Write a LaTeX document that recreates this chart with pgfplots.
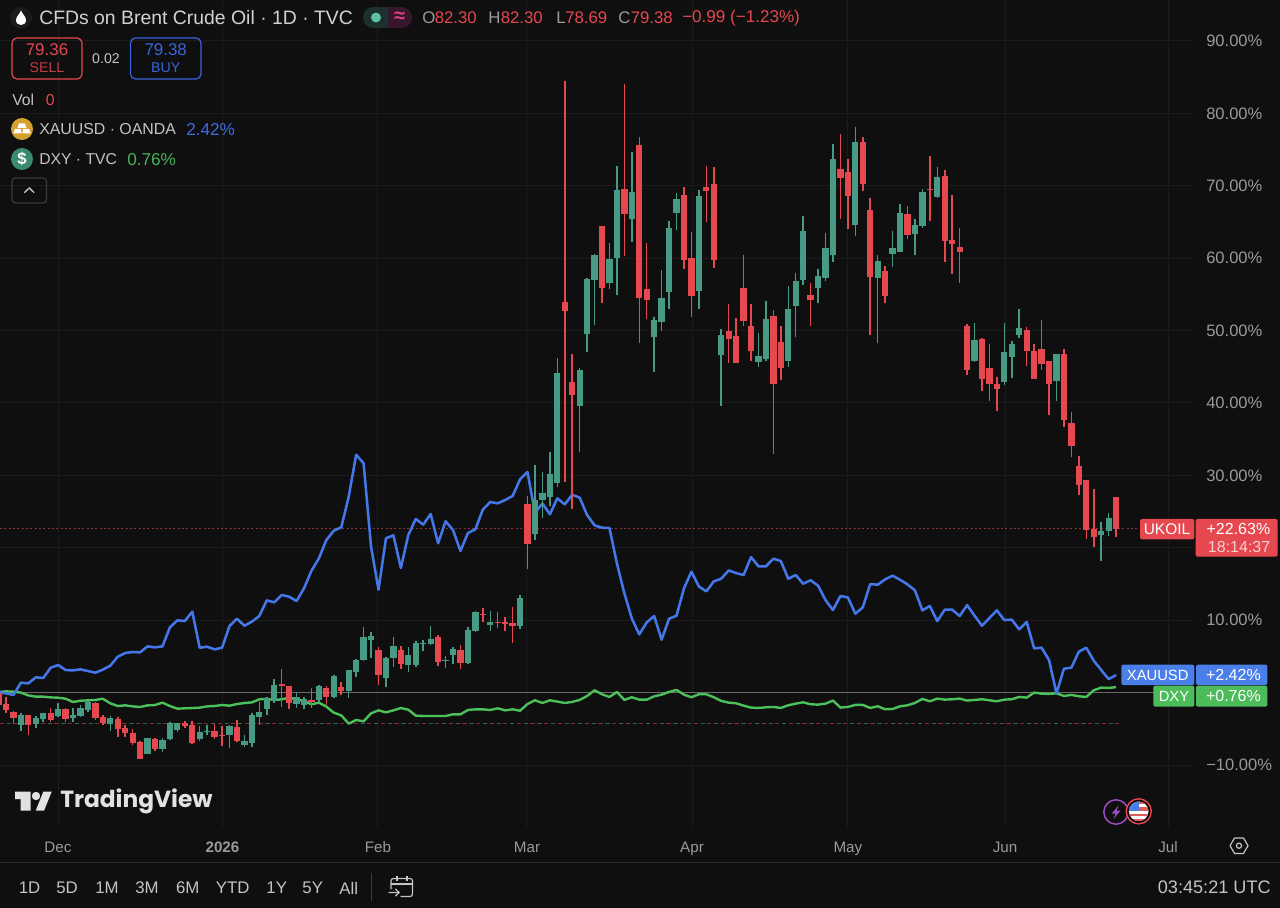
\documentclass[border=0pt]{standalone}
\usepackage{fontspec}
\setmainfont{Liberation Sans}
\newfontfamily\logofont{Poppins}
\usepackage{pgfplots}
\usepackage{pgfplotstable}
\pgfplotsset{compat=1.18}
\definecolor{bg}{HTML}{0F0F0F}
\definecolor{gridc}{HTML}{1B1B1B}
\definecolor{cred}{HTML}{E5484F}
\definecolor{cgreen}{HTML}{479B85}
\definecolor{xau}{HTML}{4478EA}
\definecolor{dxy}{HTML}{4CC15A}
\definecolor{axt}{HTML}{9A9A9A}
\definecolor{ttl}{HTML}{D2D2D2}
\definecolor{lbl}{HTML}{C4C4C4}
\definecolor{bblue}{HTML}{4A7EE8}
\definecolor{bgreen}{HTML}{4CBB5A}
\definecolor{h1C302C}{HTML}{1C302C}
\definecolor{h35162A}{HTML}{35162A}
\definecolor{h5CC0A8}{HTML}{5CC0A8}
\definecolor{hE2457F}{HTML}{E2457F}
\definecolor{h3A63DC}{HTML}{3A63DC}
\definecolor{hD4A030}{HTML}{D4A030}
\definecolor{h3F6CE0}{HTML}{3F6CE0}
\definecolor{h3A8A72}{HTML}{3A8A72}
\definecolor{h44B558}{HTML}{44B558}
\definecolor{h3A3A3A}{HTML}{3A3A3A}
\definecolor{hE2E2E2}{HTML}{E2E2E2}
\definecolor{h9A50C4}{HTML}{9A50C4}
\definecolor{hE5484D}{HTML}{E5484D}
\definecolor{hE05A5A}{HTML}{E05A5A}
\definecolor{hF7CFD1}{HTML}{F7CFD1}
\definecolor{h2A2A2A}{HTML}{2A2A2A}
\definecolor{h1C1C1F}{HTML}{1C1C1F}
\definecolor{zero}{HTML}{6A6A6A}
\pgfplotstableread{
x open high low close
0 0.00 0.30 -2.00 -1.71
1 -1.58 -0.56 -2.77 -2.40
2 -2.68 -2.50 -4.34 -3.46
4 -3.14 -3.14 -5.86 -4.48
7 -2.87 -2.08 -4.11 -3.79
9 -2.22 -2.13 -4.02 -3.69
13 -1.48 -1.30 -3.79 -3.51
14 -3.37 -3.10 -4.48 -4.25
16 -3.60 -3.33 -6.09 -4.98
17 -4.89 -4.48 -6.18 -5.53
18 -5.63 -5.07 -7.19 -6.92
19 -6.78 -6.64 -9.22 -9.22
21 -6.41 -6.32 -8.02 -7.84
25 -4.20 -3.92 -4.94 -4.61
26 -4.48 -3.88 -7.10 -6.92
29 -5.30 -4.34 -6.36 -6.09
30 -5.86 -4.61 -7.38 -5.95
32 -4.71 -3.79 -6.78 -6.64
38 1.14 3.21 -1.94 0.96
39 0.96 0.96 -2.22 -1.39
42 -0.98 0.59 -2.17 -1.25
44 0.59 0.91 -1.71 -0.61
46 0.77 1.42 -0.38 0.22
51 5.93 6.30 1.10 2.39
54 5.84 6.44 3.31 3.95
59 7.68 7.91 3.68 4.27
62 5.84 6.58 3.21 4.04
65 10.86 11.64 9.71 10.67
67 9.80 11.09 8.88 9.57
68 9.75 10.49 8.56 9.43
69 9.61 11.78 6.81 9.25
71 26.00 27.16 17.03 20.57
76 54.00 84.53 29.13 52.76
77 42.90 46.73 25.36 41.10
81 64.45 64.50 53.77 55.94
84 69.52 84.07 60.31 66.06
86 75.69 76.70 48.34 54.51
87 55.80 62.15 51.65 54.23
92 68.73 69.84 58.56 59.80
93 59.99 63.58 51.93 54.74
95 69.84 72.79 65.01 69.33
96 70.25 72.56 58.70 59.71
98 49.99 53.68 45.57 48.84
99 49.21 51.70 45.48 45.48
100 55.89 60.44 50.68 51.33
101 50.59 53.63 45.80 47.23
104 52.02 52.80 32.96 42.67
105 48.43 50.59 43.22 44.84
109 54.96 56.53 50.68 54.23
113 72.32 77.16 65.37 71.12
114 71.91 73.66 64.03 68.64
116 76.10 76.70 69.33 70.30
117 66.66 68.27 49.39 57.45
119 58.28 58.92 53.77 54.73
122 66.06 67.21 62.70 63.21
125 69.61 74.07 65.09 69.51
127 71.40 72.18 59.43 62.38
128 62.52 68.78 57.82 61.92
129 61.55 64.22 56.53 60.90
130 50.59 50.92 43.92 44.56
132 48.80 48.94 41.71 43.36
133 44.79 48.15 40.23 42.67
134 42.58 43.55 38.90 41.89
138 50.09 50.45 45.11 47.23
139 47.14 48.11 43.27 43.27
140 47.51 51.47 44.61 45.34
141 45.76 45.80 38.39 42.58
143 46.73 47.46 36.64 37.66
144 37.19 38.81 32.59 34.02
145 31.30 32.68 27.30 28.72
146 29.41 29.41 21.27 22.46
147 22.65 28.13 20.11 21.54
150 27.07 27.07 21.54 22.63
}\downcandles
\pgfplotstableread{
x open high low close
3 -4.48 -2.77 -5.26 -3.14
5 -4.38 -3.23 -4.94 -3.56
6 -3.65 -2.77 -4.02 -2.82
8 -3.23 -1.39 -3.33 -2.22
10 -3.56 -2.08 -4.11 -3.05
11 -3.23 -1.71 -3.37 -2.08
12 -2.40 -1.16 -2.63 -1.25
15 -4.29 -3.23 -5.26 -3.51
20 -8.53 -6.23 -8.53 -6.32
22 -7.84 -6.32 -8.25 -6.50
23 -6.46 -4.02 -6.55 -4.20
24 -5.17 -4.15 -5.40 -4.25
27 -6.46 -4.61 -6.64 -5.40
28 -5.35 -4.43 -5.90 -5.26
31 -5.86 -4.48 -7.70 -4.61
33 -7.28 -5.86 -7.56 -6.73
34 -7.01 -2.77 -7.47 -3.10
35 -3.37 -1.25 -4.48 -2.68
36 -2.31 -0.65 -3.10 -0.75
37 -1.11 1.83 -1.48 1.00
40 -1.62 -0.10 -2.17 -0.65
41 -1.71 -0.56 -2.22 -0.93
43 -1.02 1.05 -1.25 0.91
45 -0.61 2.43 -0.70 2.34
47 0.27 3.12 -0.79 3.08
48 2.80 4.60 2.20 4.50
49 4.50 9.02 4.37 7.63
50 7.27 8.42 4.73 7.82
52 1.97 4.96 0.73 4.73
53 4.83 7.73 3.49 6.44
55 3.77 6.25 2.85 5.15
56 3.81 7.17 3.58 6.81
57 6.67 7.27 5.75 6.85
58 6.71 9.20 6.62 7.45
60 4.41 5.06 3.35 4.55
61 5.19 6.25 3.95 5.98
63 4.04 9.11 3.95 8.60
64 8.51 11.27 8.42 11.09
66 9.34 11.23 8.56 9.80
70 9.25 13.53 8.83 13.07
72 21.91 31.44 21.08 26.56
73 26.60 30.42 24.07 27.52
74 27.01 33.28 25.82 30.19
75 28.95 46.17 28.44 44.19
78 39.58 44.89 33.28 44.55
79 49.49 57.23 47.00 57.18
80 56.95 60.54 50.78 60.45
82 56.63 62.15 55.80 59.85
83 60.08 72.79 54.97 69.38
85 65.47 74.67 62.29 69.20
88 49.17 51.93 44.33 51.42
89 51.24 58.33 50.00 54.51
90 55.34 65.14 52.94 64.13
91 66.29 69.01 63.90 68.14
94 55.43 69.38 53.04 68.64
97 46.68 50.18 39.63 49.39
102 45.67 49.62 45.02 46.54
103 46.08 54.09 45.80 51.60
106 45.85 56.21 44.97 52.94
107 53.40 57.91 49.07 56.81
108 57.04 65.78 56.35 63.71
110 55.84 58.51 53.77 57.50
111 57.22 63.44 56.90 61.36
112 60.40 75.77 59.52 73.70
115 64.59 78.08 63.07 76.10
118 57.31 60.44 48.33 59.66
120 60.54 63.71 58.74 61.46
121 60.90 67.49 60.86 66.25
123 63.30 65.42 60.44 64.54
124 64.50 69.51 64.13 69.10
126 68.46 72.64 68.32 71.22
131 45.76 51.01 45.71 48.71
135 42.95 51.01 42.44 47.05
136 46.36 48.61 43.41 48.15
137 49.44 52.94 49.03 50.41
142 43.04 46.77 40.23 46.73
148 21.73 23.61 18.23 22.32
149 22.28 24.76 21.63 24.07
}\upcandles
\pgfplotstableread{
i xau dxy
0 0.04 0.08
1 -0.10 0.17
2 -0.33 0.13
3 1.37 0.00
4 1.28 -0.38
5 2.11 -0.56
6 2.02 -0.56
7 3.44 -0.66
8 3.81 -0.70
9 3.12 -0.84
10 3.07 -1.30
11 3.21 -1.12
12 2.98 -1.07
13 2.75 -1.02
14 3.17 -0.84
15 3.72 -1.48
16 4.96 -1.85
17 5.47 -1.76
18 5.61 -1.90
19 5.56 -1.99
20 6.39 -1.76
21 6.25 -1.71
22 6.39 -1.39
23 9.01 -1.85
24 9.98 -2.22
25 9.89 -2.17
26 11.18 -2.13
27 6.20 -2.08
28 6.34 -1.90
29 5.97 -1.85
30 6.20 -1.71
31 9.20 -1.81
32 10.21 -1.58
33 9.24 -1.44
34 9.80 -1.35
35 10.58 -0.93
36 12.74 -0.85
37 12.47 -1.02
38 13.48 -0.93
39 13.25 -0.70
40 12.65 -0.93
41 14.40 -1.16
42 16.84 -1.62
43 18.55 -1.39
44 21.08 -1.94
45 22.37 -2.77
46 22.83 -3.14
47 27.06 -4.29
48 32.86 -3.78
49 31.67 -3.97
50 20.16 -2.86
51 14.22 -2.45
52 21.31 -2.73
53 21.72 -2.45
54 17.21 -2.13
55 21.77 -2.36
56 23.98 -3.18
57 23.20 -3.23
58 24.67 -3.23
59 20.62 -3.23
60 23.66 -3.23
61 22.46 -3.00
62 19.56 -3.00
63 22.04 -2.40
64 22.55 -2.31
65 25.27 -2.31
66 26.33 -2.40
67 26.14 -2.17
68 26.60 -2.45
69 27.16 -2.31
70 29.46 -2.50
71 30.47 -1.57
72 24.80 -1.06
73 26.14 -1.43
74 24.62 -1.06
75 26.83 -1.24
76 26.00 -1.43
77 27.33 -1.29
78 26.92 -1.01
79 24.53 -0.46
80 23.10 0.32
81 22.78 -0.23
82 22.73 -0.60
83 17.85 0.09
84 13.71 -1.01
85 10.25 -0.64
86 8.04 -0.97
87 9.70 -0.97
88 10.58 -0.51
89 7.31 -0.28
90 10.21 0.09
91 10.62 0.37
92 14.40 -0.28
93 16.70 -0.64
94 14.67 -0.23
95 13.98 -0.23
96 15.36 -0.64
97 15.73 -1.15
98 16.88 -1.38
99 16.51 -1.47
100 16.24 -1.80
101 18.72 -2.07
102 17.44 -2.12
103 17.44 -2.03
104 18.49 -1.98
105 18.17 -2.12
106 15.73 -1.75
107 16.24 -1.52
108 15.04 -1.34
109 15.52 -1.61
110 14.76 -1.66
111 12.78 -1.52
112 11.40 -1.10
113 13.34 -2.07
114 13.15 -1.98
115 10.90 -1.70
116 11.77 -1.70
117 14.99 -2.12
118 14.90 -1.89
119 15.64 -2.30
120 16.15 -2.26
121 15.59 -1.89
122 14.95 -1.75
123 14.12 -1.43
124 11.36 -0.87
125 11.96 -1.20
126 9.88 -0.83
127 11.45 -0.97
128 11.45 -0.92
129 10.58 -0.83
130 12.09 -1.10
131 10.62 -1.01
132 9.24 -0.92
133 10.30 -1.06
134 11.36 -1.20
135 10.02 -0.97
136 10.07 -0.92
137 8.73 -0.60
138 9.75 -0.69
139 6.11 0.00
140 6.20 -0.14
141 4.50 -0.18
142 -0.11 -0.09
143 3.30 -0.46
144 3.44 -0.32
145 5.65 -0.51
146 6.20 -0.60
147 4.41 0.32
148 3.12 0.69
149 1.87 0.64
150 2.42 0.76
}\lines
\newcommand\candles[2]{%
  \addplot[forget plot, draw=none, no markers, error bars/.cd, y dir=both, y explicit, error mark=none,
    error bar style={draw=#2, line width=1.15pt}]
    table[x=x, y expr=\thisrow{high}, y error plus expr=0, y error minus expr=\thisrow{high}-\thisrow{low}] {#1};
  \addplot[forget plot, draw=none, no markers, error bars/.cd, y dir=both, y explicit, error mark=none,
    error bar style={draw=#2, line width=4.7pt}]
    table[x=x, y expr={max(\thisrow{open},\thisrow{close})}, y error plus expr=0, y error minus expr={abs(\thisrow{open}-\thisrow{close})}] {#1};
}
% text helper: x y anchor colour size text
\newcommand\T[6]{\node[anchor=#3, inner sep=0pt, text=#4, font=\fontsize{#5}{#5}\selectfont] at (#1,#2) {#6};}
\begin{document}
\begin{tikzpicture}
\useasboundingbox (0,-59.25pt) rectangle (960pt,621pt);
\fill[bg] (-3pt,-62pt) rectangle (963pt,624pt);
\begin{axis}[
  scale only axis, width=895.5pt, height=621pt,
  xmin=0.1946, xmax=160.46, ymin=-18.70, ymax=95.66,
  axis line style={draw=none},
  major tick length=0pt,
  tick style={draw=none},
  grid=major,
  major grid style={gridc, line width=0.75pt},
  ytick={-10,0,10,20,30,40,50,60,70,80,90},
  yticklabels={{−10.00\%},{},{10.00\%},{},{30.00\%},{40.00\%},{50.00\%},{60.00\%},{70.00\%},{80.00\%},{90.00\%}},
  yticklabel pos=right,
  yticklabel style={anchor=west, inner sep=0pt, text=axt, font=\fontsize{12.4}{13}\selectfont},
  yticklabel shift=9pt,
  xtick={7.98,30.06,50.93,70.93,93.08,114.0,135.1,156.98},
  xticklabels={Dec,\textbf{2026},Feb,Mar,Apr,May,Jun,Jul},
  xticklabel style={anchor=center, inner sep=0pt, text height=8pt, text depth=0pt, text=axt, font=\fontsize{11.4}{12}\selectfont},
  xticklabel shift=14.2pt,
  clip=true,
]
% reference levels
\addplot[forget plot, color=zero, line width=1.1pt] coordinates {(0.1946,0) (160.46,0)};
\addplot[forget plot, color=cred!60!bg, line width=1pt, dash pattern=on 1.4pt off 1.85pt] coordinates {(0.1946,22.63) (153.2,22.63)};
\addplot[forget plot, color=cred!55!bg, line width=0.8pt, dash pattern=on 3.2pt off 7pt] coordinates {(0.1946,-4.27) (150.5,-4.27)};
\addplot[forget plot, color=cgreen!60!bg, line width=0.8pt, dash pattern=on 3.2pt off 7pt, dash phase=5pt] coordinates {(0.1946,-4.27) (150.5,-4.27)};
% comparison series
\addplot[forget plot, color=dxy, line width=1.8pt, line join=round] table[x=i, y=dxy] {\lines};
\addplot[forget plot, color=xau, line width=1.9pt, line join=round] table[x=i, y=xau] {\lines};
% candles
\candles{\downcandles}{cred}
\candles{\upcandles}{cgreen}
\end{axis}
\begin{scope}[x=0.75pt, y=-0.75pt, yshift=621pt]
% ---- header
\fill[h1C1C1F] (21,18) circle[radius=11];
\fill[white] (21,10.5) .. controls (22,13.5) and (26,16.5) .. (26,20) .. controls (26,23.2) and (23.8,25) .. (21,25) .. controls (18.2,25) and (16,23.2) .. (16,20) .. controls (16,16.5) and (20,13.5) .. (21,10.5) -- cycle;
\T{39}{18}{west}{ttl}{14.55}{CFDs on Brent Crude Oil · 1D · TVC}
\begin{scope}
\clip[rounded corners=7.8pt] (363,7) rectangle (412,28);
\fill[h1C302C] (363,7) rectangle (387.5,28);
\fill[h35162A] (387.5,7) rectangle (412,28);
\end{scope}
\fill[h5CC0A8] (376,17.5) circle[radius=5];
\T{399.5}{17}{center}{hE2457F}{15}{\textbf{≈}}
\T{422}{18}{west}{axt}{12.6}{O}
\T{434.5}{18}{west}{cred}{12.6}{82.30}
\T{488}{18}{west}{axt}{12.6}{H}
\T{500.5}{18}{west}{cred}{12.6}{82.30}
\T{556}{18}{west}{axt}{12.6}{L}
\T{565}{18}{west}{cred}{12.6}{78.69}
\T{618}{18}{west}{axt}{12.6}{C}
\T{630.5}{18}{west}{cred}{12.6}{79.38}
\T{682}{18}{west}{cred}{12.8}{−0.99 (−1.23\%)}
% sell / buy
\draw[cred, line width=0.9pt, rounded corners=3.7pt] (12,38) rectangle (82,79);
\draw[h3A63DC, line width=0.9pt, rounded corners=3.7pt] (130.5,38) rectangle (201,79);
\T{47}{50}{center}{cred}{12.7}{79.36}
\T{47}{67.5}{center}{cred!85!black}{10.6}{SELL}
\T{165.7}{50}{center}{h3A63DC}{12.7}{79.38}
\T{165.7}{67.5}{center}{h3A63DC}{10.6}{BUY}
\T{106}{58.5}{center}{lbl}{10.6}{0.02}
\T{12}{100}{west}{lbl}{11.8}{Vol}
\T{45.5}{100}{west}{cred}{11.8}{0}
% gold
\fill[hD4A030] (22,129) circle[radius=11];
\fill[white] (19,123.5) -- (25,123.5) -- (26.5,128) -- (17.5,128) -- cycle;
\fill[white] (15,129) -- (21,129) -- (21.6,133.5) -- (13.5,133.5) -- cycle;
\fill[white] (23,129) -- (29,129) -- (30.5,133.5) -- (22.4,133.5) -- cycle;
\T{39}{129.5}{west}{lbl}{11.9}{XAUUSD · OANDA}
\T{186}{129.5}{west}{h3F6CE0}{12.9}{2.42\%}
% dollar
\fill[h3A8A72] (22,159) circle[radius=11];
\T{22}{159}{center}{white}{12.5}{\textbf{\$}}
\T{39}{159.5}{west}{lbl}{11.8}{DXY · TVC}
\T{127}{159.5}{west}{h44B558}{12.9}{0.76\%}
\draw[h3A3A3A, line width=0.9pt, rounded corners=2.5pt] (12,178) rectangle (46.5,203);
\draw[lbl, line width=1pt, line cap=round] (24.5,192.5) -- (29.3,188) -- (34,192.5);
% ---- logo
\fill[hE2E2E2] (15,791.7) -- (30.7,791.7) -- (30.7,810.7) -- (20.7,810.7) -- (20.7,799) -- (15,799) -- cycle;
\fill[hE2E2E2] (36,796) circle[radius=4.2];
\fill[hE2E2E2] (43.3,791.7) -- (51.7,791.7) -- (44,810.7) -- (35.7,810.7) -- cycle;
\T{60}{801.5}{west}{hE2E2E2}{17.5}{\logofont\bfseries TradingView}
% ---- event icons
\draw[h9A50C4, line width=1.1pt] (1116,812) circle[radius=12.2];
\fill[h9A50C4] (1118.5,805.5) -- (1111.8,813.5) -- (1115.6,813.5) -- (1113.5,819) -- (1120.5,810.5) -- (1116.6,810.5) -- cycle;
\fill[black] (1138.7,811.3) circle[radius=13];
\draw[hE5484D, line width=1.1pt] (1138.7,811.3) circle[radius=12.5];
\begin{scope}
\clip (1138.7,811.3) circle[radius=9.8];
\fill[white] (1128,800) rectangle (1150,823);
\fill[hE05A5A] (1128,801) rectangle (1150,804);
\fill[hE05A5A] (1128,807) rectangle (1150,810.5);
\fill[hE05A5A] (1128,813.5) rectangle (1150,816);
\fill[hE05A5A] (1128,819) rectangle (1150,823);
\fill[bblue] (1128,800) rectangle (1139,811);
\end{scope}
% ---- badges
\fill[cred, rounded corners=1.5pt] (1140,519) rectangle (1194.3,539.3);
\fill[cred, rounded corners=1.5pt] (1195.7,519) rectangle (1277.7,556.7);
\T{1167}{529.3}{center}{white}{11.6}{UKOIL}
\T{1270.5}{529.3}{east}{white}{12}{+22.63\%}
\T{1270.5}{547}{east}{hF7CFD1}{12}{18:14:37}
\fill[bblue, rounded corners=1.5pt] (1121.3,664.7) rectangle (1194.3,685);
\fill[bblue, rounded corners=1.5pt] (1196,664.7) rectangle (1267.3,685);
\T{1157.7}{675}{center}{white}{11.1}{XAUUSD}
\T{1261}{675}{east}{white}{12}{+2.42\%}
\fill[bgreen, rounded corners=1.5pt] (1153.3,685.7) rectangle (1194.3,706.7);
\fill[bgreen, rounded corners=1.5pt] (1196,685.7) rectangle (1267.3,706.7);
\T{1174}{696}{center}{white}{11.1}{DXY}
\T{1261}{696}{east}{white}{12}{+0.76\%}
% ---- settings
\draw[lbl, line width=0.9pt, line join=round] (1230,845.7) -- (1234.5,838) -- (1243.5,838) -- (1248,845.7) -- (1243.5,853.4) -- (1234.5,853.4) -- cycle;
\draw[lbl, line width=0.9pt] (1239,845.7) circle[radius=2.6];
% ---- bottom bar
\draw[h2A2A2A, line width=1pt] (0,862.7) -- (1280,862.7);
\T{29.5}{888}{center}{lbl}{12.6}{1D}
\T{67}{888}{center}{lbl}{12.6}{5D}
\T{107}{888}{center}{lbl}{12.6}{1M}
\T{147}{888}{center}{lbl}{12.6}{3M}
\T{187.7}{888}{center}{lbl}{12.6}{6M}
\T{232.7}{888}{center}{lbl}{12.6}{YTD}
\T{276.7}{888}{center}{lbl}{12.6}{1Y}
\T{312.7}{888}{center}{lbl}{12.6}{5Y}
\T{348.7}{888}{center}{lbl}{12.6}{All}
\draw[h3A3A3A, line width=0.9pt] (371.7,873) -- (371.7,901);
\draw[lbl, line width=0.9pt, line cap=round, rounded corners=1.8pt] (391,889) -- (391,878.5) -- (412.5,878.5) -- (412.5,896.5) -- (401,896.5);
\draw[lbl, line width=0.9pt] (391,884) -- (412.5,884);
\draw[lbl, line width=0.9pt] (397,875.5) -- (397,880.5) (407,875.5) -- (407,880.5);
\draw[lbl, line width=0.9pt, line cap=round, line join=round] (389,892.5) -- (399,892.5) (395.5,889) -- (399.2,892.5) -- (395.5,896);
\T{1271}{887.5}{east}{lbl}{13.6}{03:45:21 UTC}
\end{scope}
\end{tikzpicture}
\end{document}
